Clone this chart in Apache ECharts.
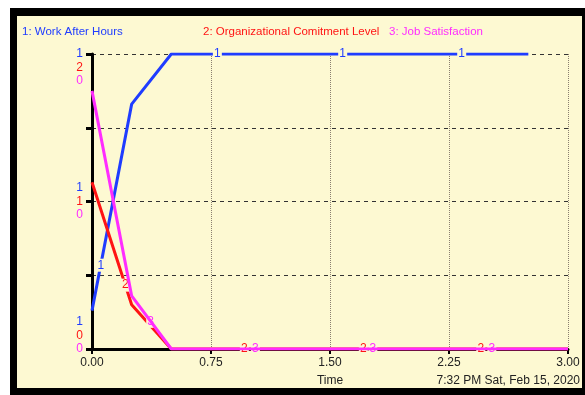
<!DOCTYPE html>
<html><head><meta charset="utf-8">
<script src="https://cdn.jsdelivr.net/npm/echarts@6/dist/echarts.min.js"></script>
<style>html,body{margin:0;padding:0;background:#fff}#c{width:585px;height:395px}</style>
</head><body><div id="c"></div>
<script>
// ---- data ----
const times = [0, 0.25, 0.5, 0.75, 1, 1.25, 1.5, 1.75, 2, 2.25, 2.5, 2.75, 3];
const workAfterHours = [0.13, 0.83, 1, 1, 1, 1, 1, 1, 1, 1, 1, 1, null];
const orgCommitment = [1.13, 0.3, 0, 0, 0, 0, 0, 0, 0, 0, 0, 0, 0];
const jobSatisfaction = [0.35, 0.072, 0, 0, 0, 0, 0, 0, 0, 0, 0, 0, 0];
const seriesNames = ['1: Work After Hours', '2: Organizational Comitment Level', '3: Job Satisfaction'];
const leftTop = ['1', '2', '0'];
const leftMid = ['1', '1', '0'];
const leftBottom = ['1', '0', '0'];
const blueMarkT = [0.055, 0.79, 1.58, 2.33];
const redMarkT = [0.21, 0.96, 1.71, 2.45];
const magMarkT = [0.37, 1.03, 1.77, 2.52];
const timeLabel = 'Time';
const stampLabel = '7:32 PM Sat, Feb 15, 2020';

const BLUE = '#1f3cff', RED = '#ff1414', MAG = '#ff2cff', BG = '#fdf9d2';
const FONT = '"Liberation Sans", Arial, sans-serif';

function interp(arr, t) {
  for (let i = 0; i < times.length - 1; i++) {
    if (t >= times[i] && t <= times[i + 1]) {
      const a = arr[i], b = arr[i + 1] == null ? arr[i] : arr[i + 1];
      return a + (b - a) * (t - times[i]) / (times[i + 1] - times[i]);
    }
  }
  return arr[arr.length - 1];
}
function marks(arr, ts, txt, color) {
  return {
    symbol: 'rect', symbolSize: [9, 13], silent: true,
    itemStyle: { color: BG },
    label: { show: true, position: 'inside', formatter: txt, color: color, fontSize: 12, fontFamily: FONT },
    data: ts.map(t => ({ coord: [t, interp(arr, t)] }))
  };
}
function pair(arr) { return times.map((t, i) => [t, arr[i]]); }
function block(lines, pos) {
  const st = ['b', 'r', 'm'];
  const body = lines.map((s, i) => '{' + st[i] + '|' + s + '}');
  if (pos === 'top') return '{e| }\n{e| }\n' + body.join('\n');
  if (pos === 'bottom') return body.join('\n') + '\n{e| }\n{e| }';
  return body.join('\n');
}

const chart = echarts.init(document.getElementById('c'), null, { renderer: 'canvas' });
const lh = 13.5;
chart.setOption({
  backgroundColor: '#fff',
  animation: false,
  textStyle: { fontFamily: FONT },
  grid: { left: 92, right: 17, top: 54, bottom: 46, containLabel: false },
  graphic: [
    { type: 'rect', z: -10, shape: { x: 10, y: 8, width: 575, height: 387 }, style: { fill: '#000' } },
    { type: 'rect', z: -9, shape: { x: 17, y: 16, width: 565, height: 372 }, style: { fill: BG } },
    { type: 'text', left: 22, top: 26, style: { text: seriesNames[0], fill: BLUE, fontSize: 11.5, fontFamily: FONT } },
    { type: 'text', left: 203, top: 26, style: { text: seriesNames[1], fill: RED, fontSize: 11.5, fontFamily: FONT } },
    { type: 'text', left: 389, top: 26, style: { text: seriesNames[2], fill: MAG, fontSize: 11.5, fontFamily: FONT } },
    { type: 'text', right: 5, top: 375, style: { text: stampLabel, fill: '#222', fontSize: 12, fontFamily: FONT } }
  ],
  xAxis: {
    type: 'value', min: 0, max: 3, interval: 0.75,
    name: timeLabel, nameLocation: 'middle', nameGap: 26,
    nameTextStyle: { color: '#222', fontSize: 12, fontFamily: FONT },
    axisLine: { lineStyle: { color: '#000', width: 3 } },
    axisTick: { show: true, length: 5, lineStyle: { color: '#000', width: 2 } },
    axisLabel: { color: '#222', fontSize: 12, fontFamily: FONT, margin: 8, formatter: v => v.toFixed(2) },
    splitLine: { show: true, lineStyle: { color: '#8a7f70', width: 1, type: [1, 1] } }
  },
  yAxis: [
    {
      type: 'value', min: 0, max: 1, interval: 0.25,
      axisLine: { show: true, lineStyle: { color: '#000', width: 3 } },
      axisTick: { show: true, length: 6, lineStyle: { color: '#000', width: 3 } },
      axisLabel: {
        margin: 9, fontSize: 12, fontFamily: FONT, align: 'right',
        formatter: function (v) {
          if (Math.abs(v - 1) < 1e-9) return block(leftTop, 'top');
          if (Math.abs(v - 0.5) < 1e-9) return block(leftMid, 'mid');
          if (Math.abs(v) < 1e-9) return block(leftBottom, 'bottom');
          return '';
        },
        rich: {
          b: { color: BLUE, fontSize: 12, lineHeight: lh, fontFamily: FONT },
          r: { color: RED, fontSize: 12, lineHeight: lh, fontFamily: FONT },
          m: { color: MAG, fontSize: 12, lineHeight: lh, fontFamily: FONT },
          e: { fontSize: 12, lineHeight: lh }
        }
      },
      splitLine: { show: true, lineStyle: { color: '#333', width: 1, type: [4, 4] } }
    },
    { type: 'value', min: 0, max: 2, show: false, splitLine: { show: false } },
    { type: 'value', min: 0, max: 0.4, show: false, splitLine: { show: false } }
  ],
  series: [
    {
      name: seriesNames[0], type: 'line', yAxisIndex: 0, data: pair(workAfterHours),
      showSymbol: false, lineStyle: { color: BLUE, width: 3 }, itemStyle: { color: BLUE },
      markPoint: marks(workAfterHours, blueMarkT, '1', BLUE), z: 3
    },
    {
      name: seriesNames[1], type: 'line', yAxisIndex: 1, data: pair(orgCommitment),
      showSymbol: false, lineStyle: { color: RED, width: 3 }, itemStyle: { color: RED },
      markPoint: marks(orgCommitment, redMarkT, '2', RED), z: 4
    },
    {
      name: seriesNames[2], type: 'line', yAxisIndex: 2, data: pair(jobSatisfaction),
      showSymbol: false, lineStyle: { color: MAG, width: 3 }, itemStyle: { color: MAG },
      markPoint: marks(jobSatisfaction, magMarkT, '3', MAG), z: 5
    }
  ]
});
</script></body></html>
